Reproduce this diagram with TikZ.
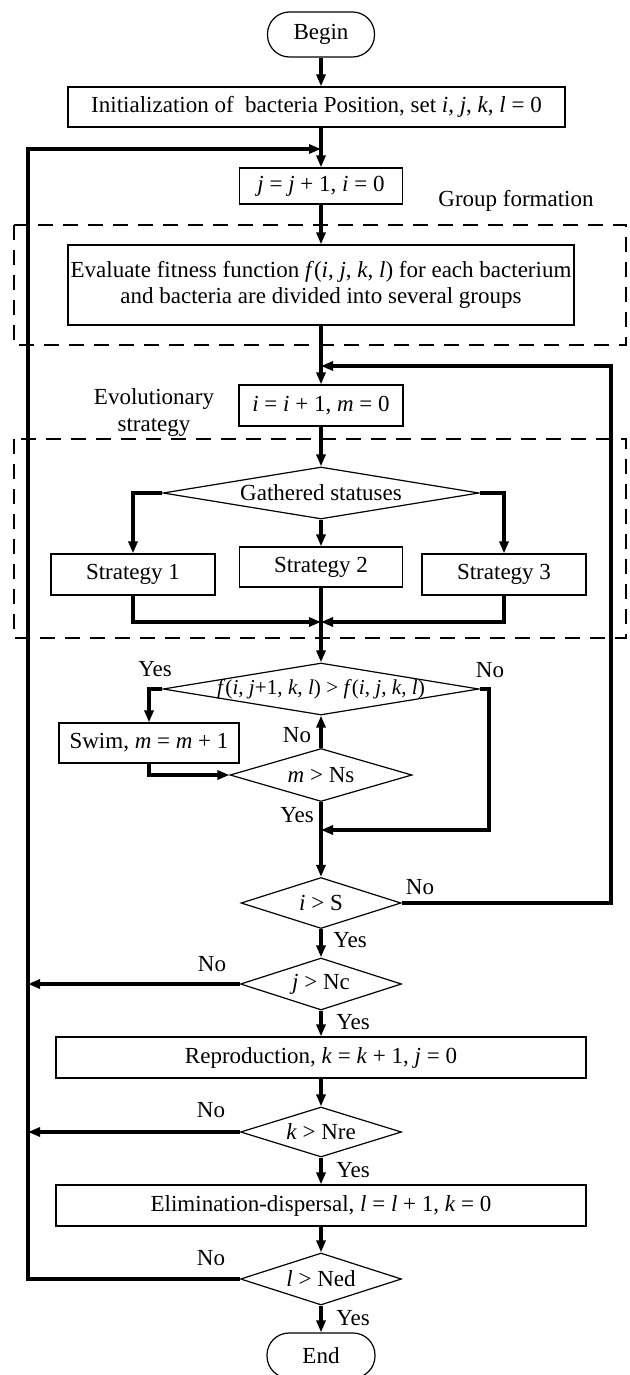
\documentclass[tikz,border=0pt]{standalone}
\usepackage{fontspec}
\setmainfont{Liberation Serif}
\usetikzlibrary{arrows.meta,shapes.geometric}
\newcommand{\mi}[1]{\textit{#1}}
\begin{document}
\begin{tikzpicture}[x=0.5pt,y=-0.5pt,
  font=\fontsize{11.5}{13}\selectfont,
  box/.style={draw, line width=0.6pt, rectangle, inner sep=0pt},
  term/.style={draw, line width=0.6pt, rectangle, rounded corners=11pt, inner sep=0pt},
  dia/.style={draw, line width=0.6pt, diamond, inner sep=0pt},
  conn/.style={line width=1.6pt, -{Triangle[length=6pt,width=4.5pt]}},
  thk/.style={line width=1.6pt},
  grp/.style={draw, line width=1.3pt, dash pattern=on 7.5pt off 5pt},
  lbl/.style={inner sep=0pt}]
\useasboundingbox (0,0) rectangle (629,1375);
\fill[white] (0,0) rectangle (629,1375);

% group frames
\draw[grp] (14,225) rectangle (626,345);
\draw[grp] (14,439) rectangle (626,638);

% nodes
\node[term, minimum width=53.5pt, minimum height=22.5pt] (begin) at (321,34.5) {Begin};
\node[box, minimum width=248.5pt, minimum height=20pt] (init) at (316.5,107) {Initialization of\ \ bacteria Position, set \mi{i}, \mi{j}, \mi{k}, \mi{l} = 0};
\node[box, minimum width=81.5pt, minimum height=18pt] (jb) at (321,186) {\mi{j} = \mi{j} + 1, \mi{i} = 0};
\node[lbl] (gf) at (516,201) {Group formation};
\node[box, minimum width=253pt, minimum height=40pt, align=center] (ev) at (321,285) {Evaluate fitness function \mi{f}(\mi{i}, \mi{j}, \mi{k}, \mi{l}) for each bacterium\\and bacteria are divided into several groups};
\node[box, minimum width=82pt, minimum height=20.5pt] (ib) at (321,405.5) {\mi{i} = \mi{i} + 1, \mi{m} = 0};
\node[lbl, align=center] (es) at (154,413) {Evolutionary\\[0.5pt]strategy};

\node[dia, minimum width=158pt, minimum height=26pt] (gs) at (321,493) {};
\node[lbl] (gst) at (gs.center) {Gathered statuses};
\node[box, minimum width=82pt, minimum height=20.5pt] (s1) at (133,574.5) {Strategy 1};
\node[box, minimum width=81.5pt, minimum height=20pt] (s2) at (321,567) {Strategy 2};
\node[box, minimum width=82pt, minimum height=20.5pt] (s3) at (504,574.5) {Strategy 3};

\node[dia, minimum width=158pt, minimum height=26pt] (fd) at (321,689) {};
\node[lbl, font=\fontsize{10.6}{12}\selectfont] (fdt) at (fd.center) {\mi{f}(\mi{i}, \mi{j}+1, \mi{k}, \mi{l}) > \mi{f}(\mi{i}, \mi{j}, \mi{k}, \mi{l})};
\node[box, minimum width=90pt, minimum height=20pt] (sw) at (149,743) {Swim, \mi{m} = \mi{m} + 1};
\node[dia, minimum width=91pt, minimum height=26.5pt] (md) at (321,775) {};
\node[lbl] (mdt) at (md.center) {\mi{m} > Ns};

\node[dia, minimum width=80pt, minimum height=25.5pt] (isd) at (321,903) {};
\node[lbl] (isdt) at (isd.center) {\mi{i} > S};
\node[dia, minimum width=80.5pt, minimum height=26pt] (jd) at (321,984) {};
\node[lbl] (jdt) at (jd.center) {\mi{j} > Nc};
\node[box, minimum width=265pt, minimum height=20.5pt] (rp) at (321,1057.5) {Reproduction, \mi{k} = \mi{k} + 1, \mi{j} = 0};
\node[dia, minimum width=80.5pt, minimum height=25pt] (kd) at (321,1132) {};
\node[lbl] (kdt) at (kd.center) {\mi{k} > Nre};
\node[box, minimum width=265pt, minimum height=20.5pt] (el) at (321,1205.5) {Elimination-dispersal, \mi{l} = \mi{l} + 1, \mi{k} = 0};
\node[dia, minimum width=80.5pt, minimum height=26pt] (ld) at (321,1279) {};
\node[lbl] (ldt) at (ld.center) {\mi{l} > Ned};
\node[term, minimum width=54pt, minimum height=22.5pt] (en) at (321,1355.5) {End};

% labels
\node[lbl] (y1) at (155,669) {Yes};
\node[lbl] (n1) at (490,670) {No};
\node[lbl] (n2) at (297,735) {No};
\node[lbl] (y2) at (297,815) {Yes};
\node[lbl] (n3) at (420,887) {No};
\node[lbl] (y3) at (350,940) {Yes};
\node[lbl] (n4) at (212,964) {No};
\node[lbl] (y4) at (353,1022) {Yes};
\node[lbl] (n5) at (211,1110) {No};
\node[lbl] (y5) at (353,1170) {Yes};
\node[lbl] (n6) at (211,1258) {No};
\node[lbl] (y6) at (353,1318) {Yes};

% helper coordinates
\coordinate (lt) at (28,149);
\coordinate (rt) at (611,366);
\coordinate (mg) at (321,622);
\coordinate (nr) at (489,830);

% connectors
\draw[conn] (begin.south) -- (begin.south |- init.north);
\draw[conn] (begin.south |- init.south) -- (jb.north);
\draw[conn] (ld.west) -| (lt) -- (lt -| jb.north);
\draw[conn] (jb.south) -- (ev.north);
\draw[conn] (ev.south) -- (ib.north);
\draw[conn] (isd.east) -| (rt) -- (rt -| ib.north);
\draw[conn] (ib.south) -- (gs.north);
\draw[conn] (gs.west) -| (s1.north);
\draw[conn] (gs.south) -- (s2.north);
\draw[conn] (gs.east) -| (s3.north);
\draw[conn] (s1.south) |- (mg);
\draw[conn] (s3.south) |- (mg);
\draw[conn] (s2.south) -- (fd.north);
\draw[conn] (fd.west) -| (sw.north);
\draw[conn] (sw.south) |- (md.west);
\draw[conn] (md.north) -- (fd.south);
\draw[conn] (md.south) -- (isd.north);
\draw[conn] (fd.east) -| (nr) -- (nr -| md.south);
\draw[conn] (isd.south) -- (jd.north);
\draw[conn] (jd.west) -- (jd.west -| lt);
\draw[conn] (jd.south) -- (rp.north);
\draw[conn] (rp.south) -- (kd.north);
\draw[conn] (kd.west) -- (kd.west -| lt);
\draw[conn] (kd.south) -- (el.north);
\draw[conn] (el.south) -- (ld.north);
\draw[conn] (ld.south) -- (en.north);
\end{tikzpicture}
\end{document}
